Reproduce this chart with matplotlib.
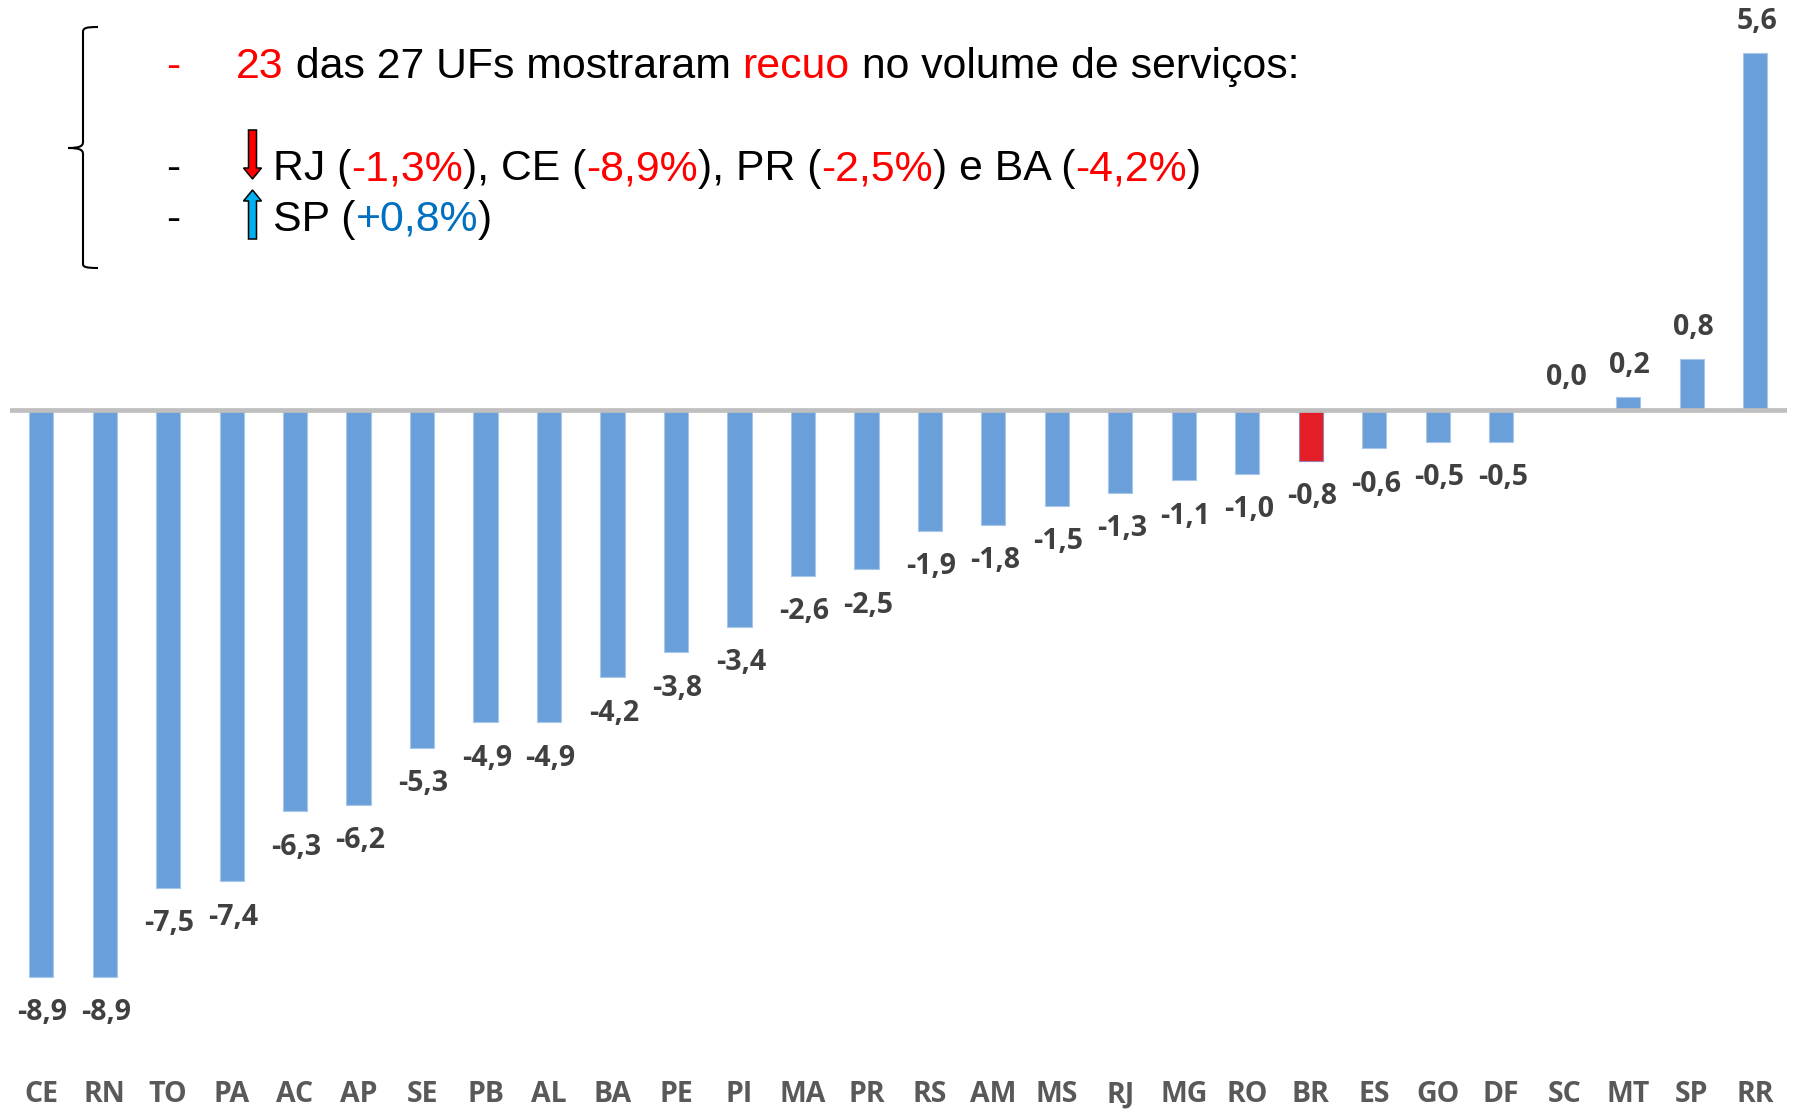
import matplotlib
matplotlib.use("Agg")
import matplotlib.pyplot as plt
from matplotlib.patches import FancyArrow, PathPatch
from matplotlib.path import Path
from matplotlib.transforms import blended_transform_factory

# Monthly change in services volume by state (%)
states = ["CE", "RN", "TO", "PA", "AC", "AP", "SE", "PB", "AL", "BA", "PE", "PI",
          "MA", "PR", "RS", "AM", "MS", "RJ", "MG", "RO", "BR", "ES", "GO", "DF",
          "SC", "MT", "SP", "RR"]
values = [-8.9, -8.9, -7.5, -7.4, -6.3, -6.2, -5.3, -4.9, -4.9, -4.2, -3.8, -3.4,
          -2.6, -2.5, -1.9, -1.8, -1.5, -1.3, -1.1, -1.0, -0.8, -0.6, -0.5, -0.5,
          0.0, 0.2, 0.8, 5.6]
highlight = "BR"

W, H, DPI = 1798, 1110, 100
fig = plt.figure(figsize=(W / DPI, H / DPI), dpi=DPI)
fig.patch.set_facecolor("white")

ax = fig.add_axes([10 / W, 0, (1787 - 10) / W, 1])
ax.set_xlim(-0.49, 27.5)
ax.set_ylim(-10.99, 6.436)
ax.axis("off")

bar_blue = "#6a9fd9"
bar_red = "#e41e26"
colors = [bar_red if s == highlight else bar_blue for s in states]
edges = ["#9b7fb8" if s == highlight else "#a8c5ea" for s in states]
x = list(range(len(states)))
ax.bar(x, values, width=0.38, color=colors, edgecolor=edges, linewidth=0.8, zorder=2)
ax.axhline(0, color="#bfbfbf", linewidth=3.4, zorder=3)

LBL_FONT = "Open Sans"
LBL_SIZE = 20.5
px = 0.72  # points per pixel at this dpi
for xi, v in zip(x, values):
    txt = f"{v:.1f}".replace(".", ",")
    off = 32 * px if v >= 0 else -36 * px
    ax.annotate(txt, (xi, v), xytext=(1, off), textcoords="offset points",
                ha="center", va="center", fontsize=LBL_SIZE, fontweight="bold",
                family=LBL_FONT, color="#404040", zorder=4)

trans = blended_transform_factory(ax.transData, ax.transAxes)
for xi, s in zip(x, states):
    ax.text(xi, 1 - 1095 / H, s, transform=trans, ha="center", va="center",
            fontsize=LBL_SIZE, fontweight="bold", family=LBL_FONT, color="#595959")

# Overlay in pixel coordinates for the commentary block
ov = fig.add_axes([0, 0, 1, 1], facecolor="none")
ov.set_xlim(0, W)
ov.set_ylim(H, 0)
ov.axis("off")

FS = 30.8
FAM = "Liberation Sans"
RED = "#ff0000"
BLUE = "#0070c0"


def rainbow(x0, y0, parts):
    first = ov.text(x0, y0, parts[0][0], color=parts[0][1], fontsize=FS,
                    family=FAM, va="baseline", ha="left")
    prev = first
    for s, c in parts[1:]:
        prev = ov.annotate(s, xy=(1, 0), xycoords=prev, va="bottom", ha="left",
                           color=c, fontsize=FS, family=FAM)


for yb, c in [(78, RED), (180, "black"), (231, "black")]:
    ov.text(166, yb, "-", color=c, fontsize=FS, family=FAM, va="baseline")

rainbow(236, 78, [("23", RED), (" das 27 UFs mostraram ", "black"), ("recuo", RED),
                  (" no volume de serviços:", "black")])
rainbow(273, 180, [("RJ (", "black"), ("-1,3%", RED), ("), CE (", "black"), ("-8,9%", RED),
                   ("), PR (", "black"), ("-2,5%", RED), (") e BA (", "black"),
                   ("-4,2%", RED), (")", "black")])
rainbow(273, 231, [("SP (", "black"), ("+0,8%", BLUE), (")", "black")])

# Down and up arrows
ov.add_patch(FancyArrow(252.5, 130, 0, 49, width=8, head_width=18, head_length=11,
                        length_includes_head=True, facecolor=RED, edgecolor="black",
                        linewidth=1.1))
ov.add_patch(FancyArrow(252.5, 239, 0, -49, width=8, head_width=18, head_length=11,
                        length_includes_head=True, facecolor="#00b0f0", edgecolor="black",
                        linewidth=1.1))

# Curly brace
verts = [(98, 27), (86, 27), (83, 28), (83, 32),
         (83, 142), (83, 146), (80, 148), (68, 148),
         (80, 148), (83, 150), (83, 154),
         (83, 264), (83, 267), (86, 268), (98, 268)]
codes = [Path.MOVETO, Path.CURVE4, Path.CURVE4, Path.CURVE4,
         Path.LINETO, Path.CURVE4, Path.CURVE4, Path.CURVE4,
         Path.CURVE4, Path.CURVE4, Path.CURVE4,
         Path.LINETO, Path.CURVE4, Path.CURVE4, Path.CURVE4]
ov.add_patch(PathPatch(Path(verts, codes), facecolor="none", edgecolor="black", linewidth=1.5))

fig.savefig("out.png", dpi=DPI, facecolor="white")
